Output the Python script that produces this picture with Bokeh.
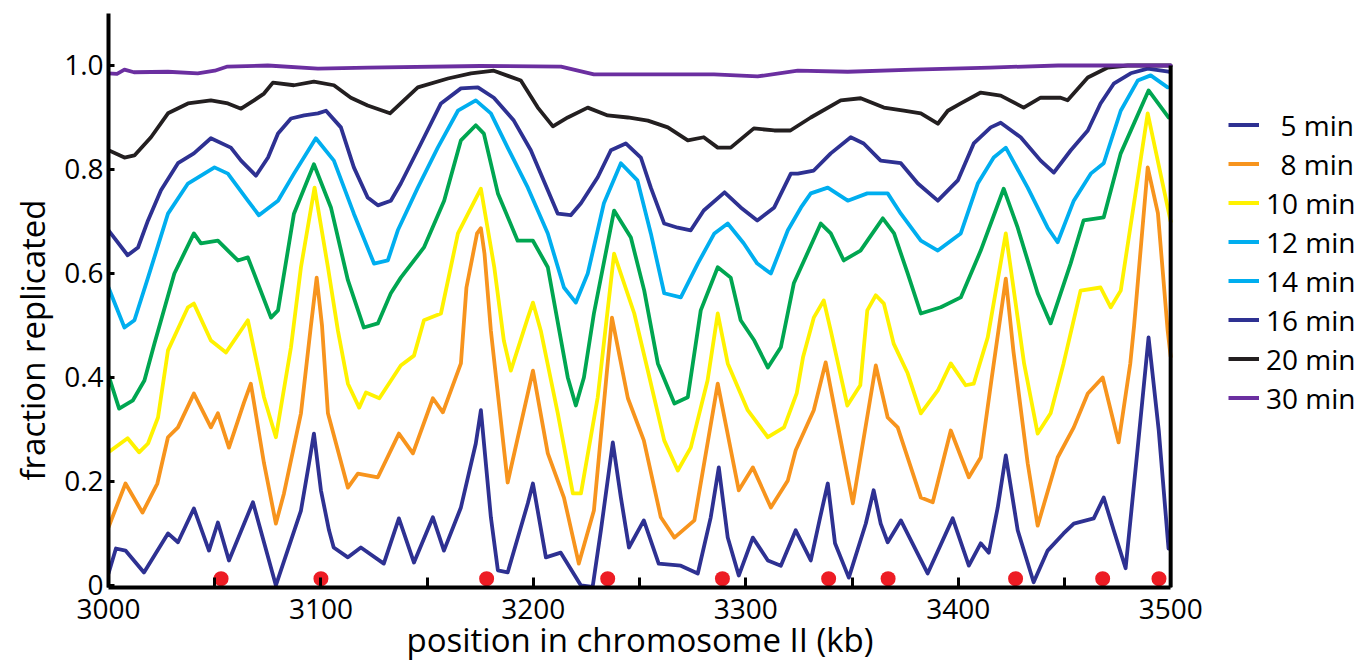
from bokeh.plotting import figure
from bokeh.models import Range1d, FixedTicker, Legend, LegendItem, Title, NumeralTickFormatter
from bokeh.embed import file_html
from bokeh.resources import INLINE

FONT = "Open Sans"

# ---------------- data ----------------
t5_x = [3000, 3003.5, 3008, 3016.7, 3028, 3032.7, 3040.2, 3047.3, 3051.5, 3056.7, 3068, 3078.8,
        3090.6, 3094.4, 3096.7, 3100, 3103.8, 3106, 3112.7, 3118.8, 3129.6, 3136.7, 3143.8, 3152.7,
        3157.9, 3165.9, 3172.9, 3175.3, 3180, 3183.3, 3187.9, 3197.4, 3199.8, 3205.9, 3212.9, 3222.4,
        3227.9, 3231.8, 3237.4, 3241.2, 3245, 3252, 3259, 3269.4, 3277.4, 3283.5, 3287.3, 3291.5,
        3296.7, 3303.3, 3310.4, 3316.5, 3323.5, 3330.6, 3335, 3338.6, 3342, 3348.5, 3356.5, 3360.2,
        3363.5, 3366.8, 3373, 3385.6, 3397.4, 3405, 3410.6, 3414.4, 3418.6, 3422.4, 3428, 3435.5,
        3442.1, 3449.6, 3454.4, 3463.8, 3468.5, 3473.2, 3478.8, 3484.5, 3489.6, 3494.4, 3499]
t5_y = [0.023, 0.071, 0.067, 0.025, 0.10, 0.083, 0.148, 0.067, 0.121, 0.048, 0.16, 0.0,
        0.144, 0.235, 0.292, 0.183, 0.106, 0.073, 0.054, 0.073, 0.042, 0.129, 0.044, 0.131,
        0.067, 0.15, 0.273, 0.337, 0.131, 0.029, 0.025, 0.158, 0.196, 0.054, 0.063, 0.0,
        -0.003, 0.106, 0.275, 0.169, 0.073, 0.125, 0.042, 0.038, 0.023, 0.131, 0.227, 0.092,
        0.019, 0.092, 0.048, 0.038, 0.106, 0.048, 0.131, 0.196, 0.081, 0.015, 0.119, 0.183,
        0.119, 0.083, 0.125, 0.023, 0.129, 0.038, 0.081, 0.063, 0.15, 0.25, 0.106, 0.006,
        0.067, 0.1, 0.119, 0.129, 0.169, 0.106, 0.033, 0.265, 0.477, 0.298, 0.071]

t8_x = [3000, 3008, 3016, 3023, 3028, 3032.7, 3040.2, 3048.2, 3051.5, 3056.7, 3063.8, 3067,
        3073.2, 3078.8, 3082.6, 3090.6, 3095.3, 3098, 3100.5, 3103.3, 3112.7, 3117.4, 3126.8,
        3136.7, 3143.3, 3152.7, 3157.4, 3165.9, 3168.5, 3173.5, 3175.3, 3177, 3180, 3187.9,
        3199.8, 3206.8, 3214.4, 3221.4, 3228.5, 3237, 3244.5, 3252, 3260, 3266.4, 3275.8,
        3286.8, 3296.7, 3303.3, 3311.8, 3319.8, 3323.5, 3332, 3337.6, 3350.4, 3361.2, 3366.8,
        3371.5, 3382.4, 3388, 3396.5, 3405, 3410.6, 3415.8, 3422.4, 3426, 3432.7, 3437.4,
        3446.8, 3454.4, 3461, 3468, 3475.5, 3481, 3482.8, 3489.2, 3494, 3498.6, 3500]
t8_y = [0.112, 0.196, 0.14, 0.196, 0.285, 0.304, 0.369, 0.304, 0.331, 0.265, 0.352, 0.388,
        0.235, 0.119, 0.177, 0.331, 0.50, 0.592, 0.50, 0.331, 0.188, 0.215, 0.208,
        0.292, 0.254, 0.36, 0.333, 0.427, 0.573, 0.677, 0.687, 0.638, 0.49, 0.198,
        0.413, 0.254, 0.169, 0.042, 0.144, 0.515, 0.36, 0.279, 0.131, 0.092, 0.125,
        0.388, 0.183, 0.227, 0.15, 0.202, 0.26, 0.337, 0.429, 0.158, 0.423, 0.323,
        0.304, 0.169, 0.16, 0.298, 0.208, 0.246, 0.40, 0.59, 0.45, 0.235, 0.115,
        0.246, 0.304, 0.369, 0.4, 0.275, 0.427, 0.5, 0.804, 0.716, 0.49, 0.44]

t10_x = [3000, 3009, 3014.4, 3018.6, 3023.3, 3028, 3037.4, 3040.2, 3048.2, 3055.3, 3065.6,
         3073.2, 3078.8, 3085.9, 3090.6, 3097, 3103.3, 3108, 3112.7, 3118, 3121.2, 3127.5,
         3137.6, 3143.8, 3148.5, 3156.5, 3164.5, 3175.3, 3181.6, 3186.1, 3189.4, 3197.4,
         3199.8, 3203.5, 3211.5, 3218.6, 3222.4, 3230.3, 3238, 3247.5, 3253.9, 3261.6, 3268,
         3274.1, 3282, 3286.8, 3291.5, 3300.9, 3310.4, 3318, 3324, 3327, 3332, 3336.7, 3340,
         3347.8, 3353.9, 3357.2, 3361.2, 3365, 3369.6, 3376.2, 3382.4, 3390.4, 3396.5, 3403.5,
         3407.3, 3413.9, 3422.4, 3431, 3437.4, 3443.5, 3449.6, 3457.6, 3467, 3471.8, 3476.5,
         3489.2, 3498.6, 3500]
t10_y = [0.256, 0.283, 0.256, 0.273, 0.323, 0.452, 0.535, 0.542, 0.471, 0.448, 0.51,
         0.362, 0.285, 0.458, 0.612, 0.765, 0.612, 0.49, 0.388, 0.342, 0.371, 0.36,
         0.423, 0.442, 0.51, 0.523, 0.677, 0.763, 0.612, 0.471, 0.413, 0.515,
         0.544, 0.49, 0.331, 0.177, 0.177, 0.362, 0.638, 0.523, 0.413, 0.279, 0.221,
         0.265, 0.394, 0.523, 0.427, 0.337, 0.285, 0.304, 0.37, 0.44, 0.515, 0.548, 0.49,
         0.346, 0.385, 0.529, 0.558, 0.542, 0.465, 0.408, 0.331, 0.375, 0.427, 0.385,
         0.388, 0.477, 0.677, 0.427, 0.292, 0.331, 0.427, 0.567, 0.573, 0.535, 0.567,
         0.908, 0.727, 0.70]

t12_x = [3000, 3005, 3011.5, 3016.9, 3021.6, 3031, 3040.2, 3043.5, 3051.5, 3060.9, 3065.6,
         3076.5, 3079.8, 3087.3, 3096.7, 3104.7, 3112.7, 3120.2, 3126.8, 3132.9, 3137.6,
         3148.5, 3158, 3165.9, 3172.9, 3176.7, 3183.3, 3192.6, 3199.8, 3206.8, 3212.2,
         3216.2, 3220, 3223.8, 3228.5, 3238, 3245.9, 3252.2, 3258.6, 3266.4, 3272.7, 3278.8,
         3286.8, 3292.9, 3297.6, 3304, 3310.4, 3316.5, 3322.6, 3335.3, 3340, 3346.1, 3354,
         3364.5, 3369.8, 3376.2, 3382.4, 3391.8, 3401.2, 3410.6, 3421.4, 3428, 3437.4,
         3443.5, 3452.9, 3459, 3468.5, 3476.5, 3489.6, 3499]
t12_y = [0.404, 0.34, 0.356, 0.394, 0.465, 0.6, 0.677, 0.658, 0.663, 0.625, 0.631,
         0.515, 0.529, 0.715, 0.81, 0.727, 0.587, 0.496, 0.504, 0.562, 0.592,
         0.65, 0.74, 0.856, 0.885, 0.869, 0.754, 0.663, 0.663, 0.612, 0.49,
         0.4, 0.346, 0.4, 0.523, 0.721, 0.669, 0.567, 0.427, 0.35, 0.362, 0.529,
         0.612, 0.592, 0.51, 0.471, 0.419, 0.458, 0.581, 0.696, 0.677, 0.625, 0.644,
         0.706, 0.677, 0.6, 0.523, 0.535, 0.554, 0.644, 0.763, 0.688, 0.562,
         0.504, 0.619, 0.702, 0.708, 0.831, 0.952, 0.9]

t14_x = [3000, 3007.5, 3012.2, 3018.6, 3028, 3037.4, 3049.9, 3056.2, 3065.6, 3070.8, 3079.8,
         3087.3, 3097.6, 3106.1, 3115.5, 3125, 3131.5, 3136.2, 3145.6, 3155, 3164.5, 3172.9,
         3180, 3187.9, 3197.4, 3206.8, 3214.4, 3220, 3225.6, 3233.2, 3241.2, 3249, 3255.3,
         3261.6, 3269.4, 3277.4, 3285.2, 3291.5, 3299, 3305.4, 3311.8, 3319.8, 3326, 3330.6,
         3338.6, 3348, 3357.2, 3366.8, 3373, 3382.4, 3390.4, 3401.2, 3409.2, 3416.7, 3422.4,
         3432.7, 3442.1, 3446.8, 3454.4, 3462.4, 3468.5, 3476.5, 3484.5, 3490.6, 3498.6]
t14_y = [0.573, 0.496, 0.51, 0.592, 0.715, 0.773, 0.804, 0.792, 0.74, 0.712, 0.74,
         0.792, 0.86, 0.817, 0.715, 0.619, 0.625, 0.683, 0.765, 0.842, 0.913, 0.933,
         0.908, 0.842, 0.765, 0.677, 0.573, 0.544, 0.6, 0.735, 0.812, 0.779, 0.677,
         0.562, 0.554, 0.619, 0.677, 0.696, 0.658, 0.619, 0.6, 0.683, 0.727, 0.754,
         0.765, 0.74, 0.754, 0.754, 0.715, 0.663, 0.644, 0.677, 0.773, 0.823, 0.842,
         0.765, 0.688, 0.66, 0.74, 0.792, 0.812, 0.913, 0.971, 0.981, 0.958]

t16_x = [3000, 3009, 3013.9, 3018.6, 3024.7, 3032.7, 3040.2, 3048.2, 3057.6, 3062.4, 3069.4,
         3075.1, 3079.8, 3085.9, 3092.1, 3098.6, 3102.4, 3109.4, 3115.5, 3122, 3126.8, 3132.9,
         3137.6, 3147.1, 3156.5, 3165.9, 3173.9, 3181.4, 3190.8, 3198.8, 3206.8, 3211.5,
         3217.6, 3222.4, 3230.3, 3236.5, 3243.5, 3250.6, 3255.3, 3261.6, 3268, 3274.1, 3280.2,
         3290, 3297.6, 3305.4, 3313.4, 3321.2, 3324.5, 3332, 3340, 3349.4, 3355.5, 3363.5,
         3373, 3381, 3390.4, 3399.8, 3407.3, 3415.3, 3420, 3429.4, 3438.8, 3445, 3453, 3461,
         3467, 3473.2, 3481.2, 3489.2, 3499]
t16_y = [0.683, 0.635, 0.65, 0.702, 0.76, 0.812, 0.831, 0.86, 0.842, 0.817, 0.788,
         0.823, 0.869, 0.898, 0.904, 0.908, 0.913, 0.881, 0.804, 0.746, 0.731, 0.74,
         0.773, 0.85, 0.927, 0.956, 0.958, 0.938, 0.894, 0.837, 0.76, 0.715,
         0.712, 0.735, 0.785, 0.837, 0.85, 0.823, 0.765, 0.696, 0.688, 0.683, 0.721,
         0.756, 0.727, 0.702, 0.727, 0.792, 0.792, 0.798, 0.831, 0.862, 0.85, 0.817,
         0.812, 0.773, 0.74, 0.779, 0.85, 0.881, 0.89, 0.862, 0.817, 0.794, 0.837, 0.875,
         0.927, 0.965, 0.985, 0.994, 0.988]

t20_x = [3000, 3007.5, 3012.2, 3020, 3028, 3037.4, 3048.2, 3056.2, 3062.4, 3068.5, 3073.2,
         3077.4, 3087.3, 3096.7, 3106.1, 3114.1, 3122, 3132.5, 3145.6, 3159.8, 3170.6, 3181.4,
         3194.1, 3202.1, 3209.2, 3216.2, 3225.6, 3235, 3244.5, 3253.9, 3263.3, 3272.7, 3280.2,
         3286.8, 3292.9, 3303.8, 3313.4, 3321, 3330.6, 3344.7, 3354.1, 3365, 3374.4, 3382.4,
         3390.4, 3395.1, 3401.2, 3410.6, 3420, 3430.8, 3438.8, 3448.2, 3451.5, 3461, 3470.4,
         3479.8, 3500]
t20_y = [0.837, 0.823, 0.827, 0.862, 0.908, 0.927, 0.933, 0.927, 0.917, 0.933, 0.946,
         0.967, 0.962, 0.969, 0.962, 0.938, 0.923, 0.908, 0.958, 0.975, 0.985, 0.99,
         0.971, 0.919, 0.883, 0.9, 0.919, 0.904, 0.9, 0.894, 0.881, 0.856, 0.862,
         0.842, 0.842, 0.879, 0.875, 0.875, 0.9, 0.933, 0.937, 0.919, 0.913, 0.908,
         0.888, 0.913, 0.927, 0.948, 0.942, 0.919, 0.938, 0.938, 0.933, 0.977, 0.996,
         1.0, 1.0]

t30_x = [3000, 3004, 3007.5, 3012, 3028, 3042, 3050, 3056, 3075, 3098.6, 3122, 3175, 3213,
         3228.5, 3254, 3285, 3305.6, 3324.5, 3348, 3379, 3415, 3447, 3500]
t30_y = [0.985, 0.984, 0.992, 0.987, 0.988, 0.985, 0.99, 0.998, 1.0, 0.994, 0.996, 0.999, 0.998,
         0.983, 0.983, 0.983, 0.979, 0.99, 0.988, 0.992, 0.996, 1.0, 1.0]

series_labels = ["\u00a0\u00a05 min", "\u00a0\u00a08 min", "10 min", "12 min",
                 "14 min", "16 min", "20 min", "30 min"]
series_x = [t5_x, t8_x, t10_x, t12_x, t14_x, t16_x, t20_x, t30_x]
series_y = [t5_y, t8_y, t10_y, t12_y, t14_y, t16_y, t20_y, t30_y]
line_colors = ["#2e3192", "#f7941d", "#fff200", "#00a651", "#00aeef", "#2e3192", "#231f20", "#6b2fa0"]
legend_colors = ["#2e3192", "#f7941d", "#fff200", "#00aeef", "#00aeef", "#2e3192", "#231f20", "#6b2fa0"]

origin_x = [3053, 3100, 3178, 3235, 3289, 3339, 3367, 3427, 3468, 3494.5]
origin_y = [0.013] * len(origin_x)

x_ticks = [3000, 3100, 3200, 3300, 3400, 3500]
x_minor_ticks = [3050, 3150, 3250, 3350, 3450]
y_ticks = [0, 0.2, 0.4, 0.6, 0.8, 1.0]

x_title = "position in chromosome II (kb)"
y_title = "fraction replicated"

# ---------------- figure ----------------
x_start, x_end = 3000, 3500
y_start, y_end = -0.004, 1.1
PX_PER_KB = 2.126              # horizontal scale of the reference
FRAME_LEFT = 107
view_end = x_start + (1361 - FRAME_LEFT) / PX_PER_KB   # frame runs to the page edge (room for the key)

p = figure(width=1361, height=662, output_backend="svg", toolbar_location=None,
           x_range=Range1d(x_start, view_end), y_range=Range1d(y_start, y_end),
           min_border_left=FRAME_LEFT, min_border_right=0, min_border_top=13, min_border_bottom=75)
p.outline_line_color = None
p.background_fill_color = "white"
p.border_fill_color = "white"
p.xgrid.visible = False
p.ygrid.visible = False

for xs, ys, c in zip(series_x, series_y, line_colors):
    p.line(xs, ys, line_color=c, line_width=3.8, line_join="round", line_cap="round")

# right frame edge (up to fraction 1.0)
p.segment(x0=[x_end], y0=[y_start], x1=[x_end], y1=[y_ticks[-1]], line_color="black", line_width=4)

p.scatter(origin_x, origin_y, size=15, fill_color="#ed1c24", line_color=None)

# axes
for ax in (p.xaxis[0], p.yaxis[0]):
    ax.axis_line_width = 4
    ax.axis_line_color = "black"
    ax.major_tick_line_color = "black"
    ax.minor_tick_line_color = "black"
    ax.major_tick_out = 0
    ax.minor_tick_out = 0
    ax.major_label_text_font = FONT
    ax.major_label_text_font_size = "28px"
    ax.major_label_text_color = "black"

p.xaxis.bounds = (x_start, x_end)
p.xaxis.ticker = FixedTicker(ticks=x_ticks, minor_ticks=x_minor_ticks)
p.xaxis.major_tick_in = 10
p.xaxis.minor_tick_in = 10
p.xaxis.major_tick_line_width = 3
p.xaxis.minor_tick_line_width = 3
p.xaxis.major_label_standoff = 11

p.yaxis.ticker = FixedTicker(ticks=y_ticks, minor_ticks=[])
p.yaxis.formatter = NumeralTickFormatter(format="0.0")
p.yaxis.major_label_overrides = {0: "0"}
p.yaxis.major_tick_in = 6
p.yaxis.major_tick_line_width = 3
p.yaxis.major_label_standoff = 5

# x axis title, centred under the 3000-3500 span
p.add_layout(Title(text=x_title, align="left", offset=298, standoff=-14,
                   text_font=FONT, text_font_size="33px", text_font_style="normal",
                   text_color="black"), "below")

# y axis title (placed along the axis as in the reference)
p.add_layout(Title(text=y_title, align="left", offset=107, standoff=14,
                   text_font=FONT, text_font_size="33px", text_font_style="normal",
                   text_color="black"), "left")

# legend (colours as drawn in the reference key)
nan = float("nan")
items = []
for lab, c in zip(series_labels, legend_colors):
    r = p.line([nan], [nan], line_color=c, line_width=4)
    items.append(LegendItem(label=lab, renderers=[r]))
legend = Legend(items=items, location=(1120, 170), padding=0, margin=0, spacing=0,
                glyph_width=31, glyph_height=39, label_height=20, label_standoff=7,
                label_text_font=FONT, label_text_font_size="28px", label_text_color="black",
                border_line_color=None, background_fill_alpha=0)
p.add_layout(legend, "center")

open("out.html", "w").write(file_html(p, INLINE))
